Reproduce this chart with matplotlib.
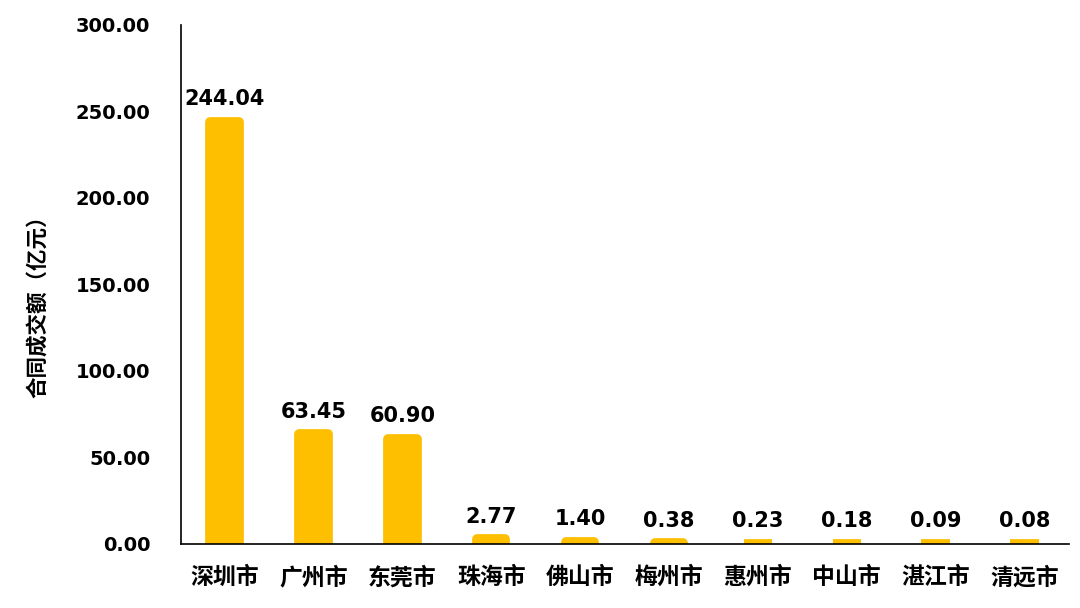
import matplotlib
matplotlib.use("Agg")
import matplotlib.pyplot as plt

cities = ["深圳市", "广州市", "东莞市", "珠海市", "佛山市", "梅州市", "惠州市", "中山市", "湛江市", "清远市"]
values = [244.04, 63.45, 60.90, 2.77, 1.40, 0.38, 0.23, 0.18, 0.09, 0.08]
yticks = [0, 50, 100, 150, 200, 250, 300]

plt.rcParams['font.family'] = ['Noto Sans CJK SC', 'DejaVu Sans']
plt.rcParams['font.weight'] = 'bold'
num_font = ['DejaVu Sans']

fig = plt.figure(figsize=(10.8, 6.08), dpi=100)
ax = fig.add_axes([0.1676, 0.1053, 0.8222, 0.8536])

color = "#FDBF00"
x = list(range(len(cities)))
bars = ax.bar(x, values, width=0.32, color=color, edgecolor=color, linewidth=7)
for b in bars:
    b.set_joinstyle('round')

for xi, v in zip(x, values):
    ax.annotate(f"{v:.2f}", (xi, v), xytext=(0, 9), textcoords='offset points',
                ha='center', va='bottom', fontsize=15, fontweight='bold',
                color='black', family=num_font)

ax.set_xlim(-0.49, 9.5)
ax.set_ylim(0, 300)
ax.set_yticks(yticks)
ax.set_yticklabels([f"{t:.2f}" for t in yticks], fontsize=14, fontweight='bold',
                   family=num_font)
ax.set_xticks(x)
ax.set_xticklabels(cities, fontsize=16.5, fontweight='bold')
ax.tick_params(axis='both', length=0)
ax.tick_params(axis='y', pad=22)
ax.tick_params(axis='x', pad=16)

for s in ['top', 'right']:
    ax.spines[s].set_visible(False)
ax.spines['left'].set_color('black')
ax.spines['bottom'].set_color('black')
ax.spines['left'].set_linewidth(1.2)
ax.spines['bottom'].set_linewidth(1.2)
ax.spines['bottom'].set_zorder(5)

fig.text(0.035, 0.505, "合同成交额（亿元）", rotation=90, ha='center', va='center',
         fontsize=15.5, fontweight='bold')

fig.savefig("out.png", dpi=100)
